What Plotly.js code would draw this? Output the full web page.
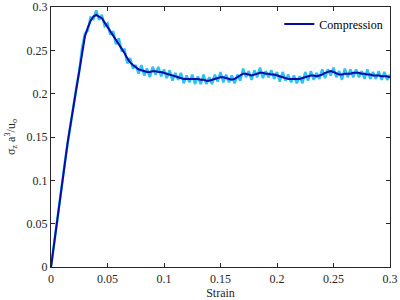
<!DOCTYPE html>
<html>
<head>
<meta charset="utf-8">
<script src="https://cdn.plot.ly/plotly-3.0.1.min.js"></script>
<style>html,body{margin:0;padding:0;background:#fff;}#chart{width:400px;height:300px;}</style>
</head>
<body>
<div id="chart"></div>
<script>
var strain = [0,0.0025,0.005,0.0075,0.01,0.0125,0.015,0.0175,0.02,0.0225,0.025,0.0275,0.03,0.0325,0.035,0.0375,0.04,0.0425,0.045,0.0475,0.05,0.0525,0.055,0.0575,0.06,0.0625,0.065,0.0675,0.07,0.0725,0.075,0.0775,0.08,0.0825,0.085,0.0875,0.09,0.0925,0.095,0.0975,0.1,0.1025,0.105,0.1075,0.11,0.1125,0.115,0.1175,0.12,0.1225,0.125,0.1275,0.13,0.1325,0.135,0.1375,0.14,0.1425,0.145,0.1475,0.15,0.1525,0.155,0.1575,0.16,0.1625,0.165,0.1675,0.17,0.1725,0.175,0.1775,0.18,0.1825,0.185,0.1875,0.19,0.1925,0.195,0.1975,0.2,0.2025,0.205,0.2075,0.21,0.2125,0.215,0.2175,0.22,0.2225,0.225,0.2275,0.23,0.2325,0.235,0.2375,0.24,0.2425,0.245,0.2475,0.25,0.2525,0.255,0.2575,0.26,0.2625,0.265,0.2675,0.27,0.2725,0.275,0.2775,0.28,0.2825,0.285,0.2875,0.29,0.2925,0.295,0.2975,0.3];
var stressSmooth = [0,0.025,0.050,0.074,0.098,0.122,0.146,0.166,0.186,0.206,0.228,0.250,0.266,0.276,0.284,0.289,0.291,0.289,0.287,0.282,0.277,0.272,0.267,0.262,0.258,0.253,0.247,0.241,0.236,0.233,0.230,0.228,0.227,0.226,0.225,0.225,0.226,0.226,0.225,0.225,0.224,0.223,0.222,0.221,0.220,0.219,0.218,0.217,0.217,0.217,0.217,0.217,0.217,0.216,0.216,0.215,0.215,0.216,0.217,0.218,0.219,0.219,0.218,0.217,0.216,0.217,0.219,0.221,0.223,0.223,0.222,0.221,0.222,0.223,0.224,0.224,0.223,0.223,0.222,0.222,0.221,0.220,0.219,0.218,0.217,0.217,0.217,0.217,0.217,0.218,0.219,0.220,0.221,0.221,0.220,0.221,0.222,0.224,0.225,0.226,0.225,0.223,0.222,0.222,0.223,0.223,0.223,0.224,0.224,0.224,0.223,0.223,0.222,0.222,0.221,0.221,0.221,0.220,0.220,0.220,0.219];
var stressRaw = [0,0.026,0.049,0.075,0.097,0.123,0.145,0.167,0.185,0.208,0.226,0.253,0.269,0.273,0.288,0.286,0.296,0.285,0.291,0.278,0.281,0.268,0.272,0.257,0.264,0.250,0.251,0.235,0.241,0.229,0.233,0.223,0.233,0.221,0.229,0.219,0.231,0.222,0.231,0.220,0.228,0.218,0.227,0.215,0.224,0.216,0.224,0.212,0.221,0.213,0.222,0.211,0.220,0.211,0.222,0.211,0.219,0.211,0.222,0.214,0.225,0.213,0.222,0.213,0.221,0.212,0.222,0.215,0.229,0.219,0.226,0.216,0.227,0.219,0.230,0.218,0.226,0.219,0.227,0.217,0.225,0.214,0.225,0.215,0.222,0.213,0.221,0.212,0.220,0.212,0.225,0.215,0.226,0.216,0.224,0.217,0.228,0.218,0.228,0.221,0.230,0.219,0.226,0.216,0.229,0.219,0.228,0.219,0.228,0.219,0.226,0.217,0.228,0.217,0.225,0.217,0.226,0.216,0.225,0.216,0.222];
var ticks = [0,0.05,0.1,0.15,0.2,0.25,0.3];
var tickText = ['0','0.05','0.1','0.15','0.2','0.25','0.3'];
var seriesName = 'Compression';

var fontFam = 'Liberation Serif';
var axisCommon = {
  range: [0, 0.3],
  tickvals: ticks,
  ticktext: tickText,
  ticks: 'inside',
  ticklen: 4,
  tickwidth: 1,
  tickcolor: '#262626',
  showline: true,
  linecolor: '#262626',
  linewidth: 1.2,
  mirror: 'ticks',
  showgrid: false,
  zeroline: false,
  tickfont: {family: fontFam, size: 12, color: '#262626'},
  fixedrange: true
};

var traces = [
  {x: strain, y: stressRaw, type: 'scatter', mode: 'lines', line: {color: '#2ec2f2', width: 2.5}, showlegend: false, hoverinfo: 'skip'},
  {x: strain, y: stressSmooth, type: 'scatter', mode: 'lines', name: seriesName, line: {color: '#0a0aa8', width: 2}}
];

var layout = {
  width: 400, height: 300,
  margin: {l: 51, r: 10, t: 7, b: 33},
  paper_bgcolor: '#fff', plot_bgcolor: '#fff',
  showlegend: true,
  legend: {x: 0.995, xanchor: 'right', y: 0.99, yanchor: 'top', bgcolor: 'rgba(0,0,0,0)', borderwidth: 0, font: {family: fontFam, size: 12, color: '#000'}, itemwidth: 30},
  xaxis: Object.assign({}, axisCommon, {title: {text: 'Strain', font: {family: fontFam, size: 12, color: '#262626'}, standoff: 0}}),
  yaxis: Object.assign({}, axisCommon, {title: {text: 'σ<sub>z</sub> a<sup>3</sup>/u<sub>o</sub>', font: {family: fontFam, size: 12, color: '#262626'}, standoff: 8}})
};

Plotly.newPlot('chart', traces, layout, {displayModeBar: false, staticPlot: true});
</script>
</body>
</html>
